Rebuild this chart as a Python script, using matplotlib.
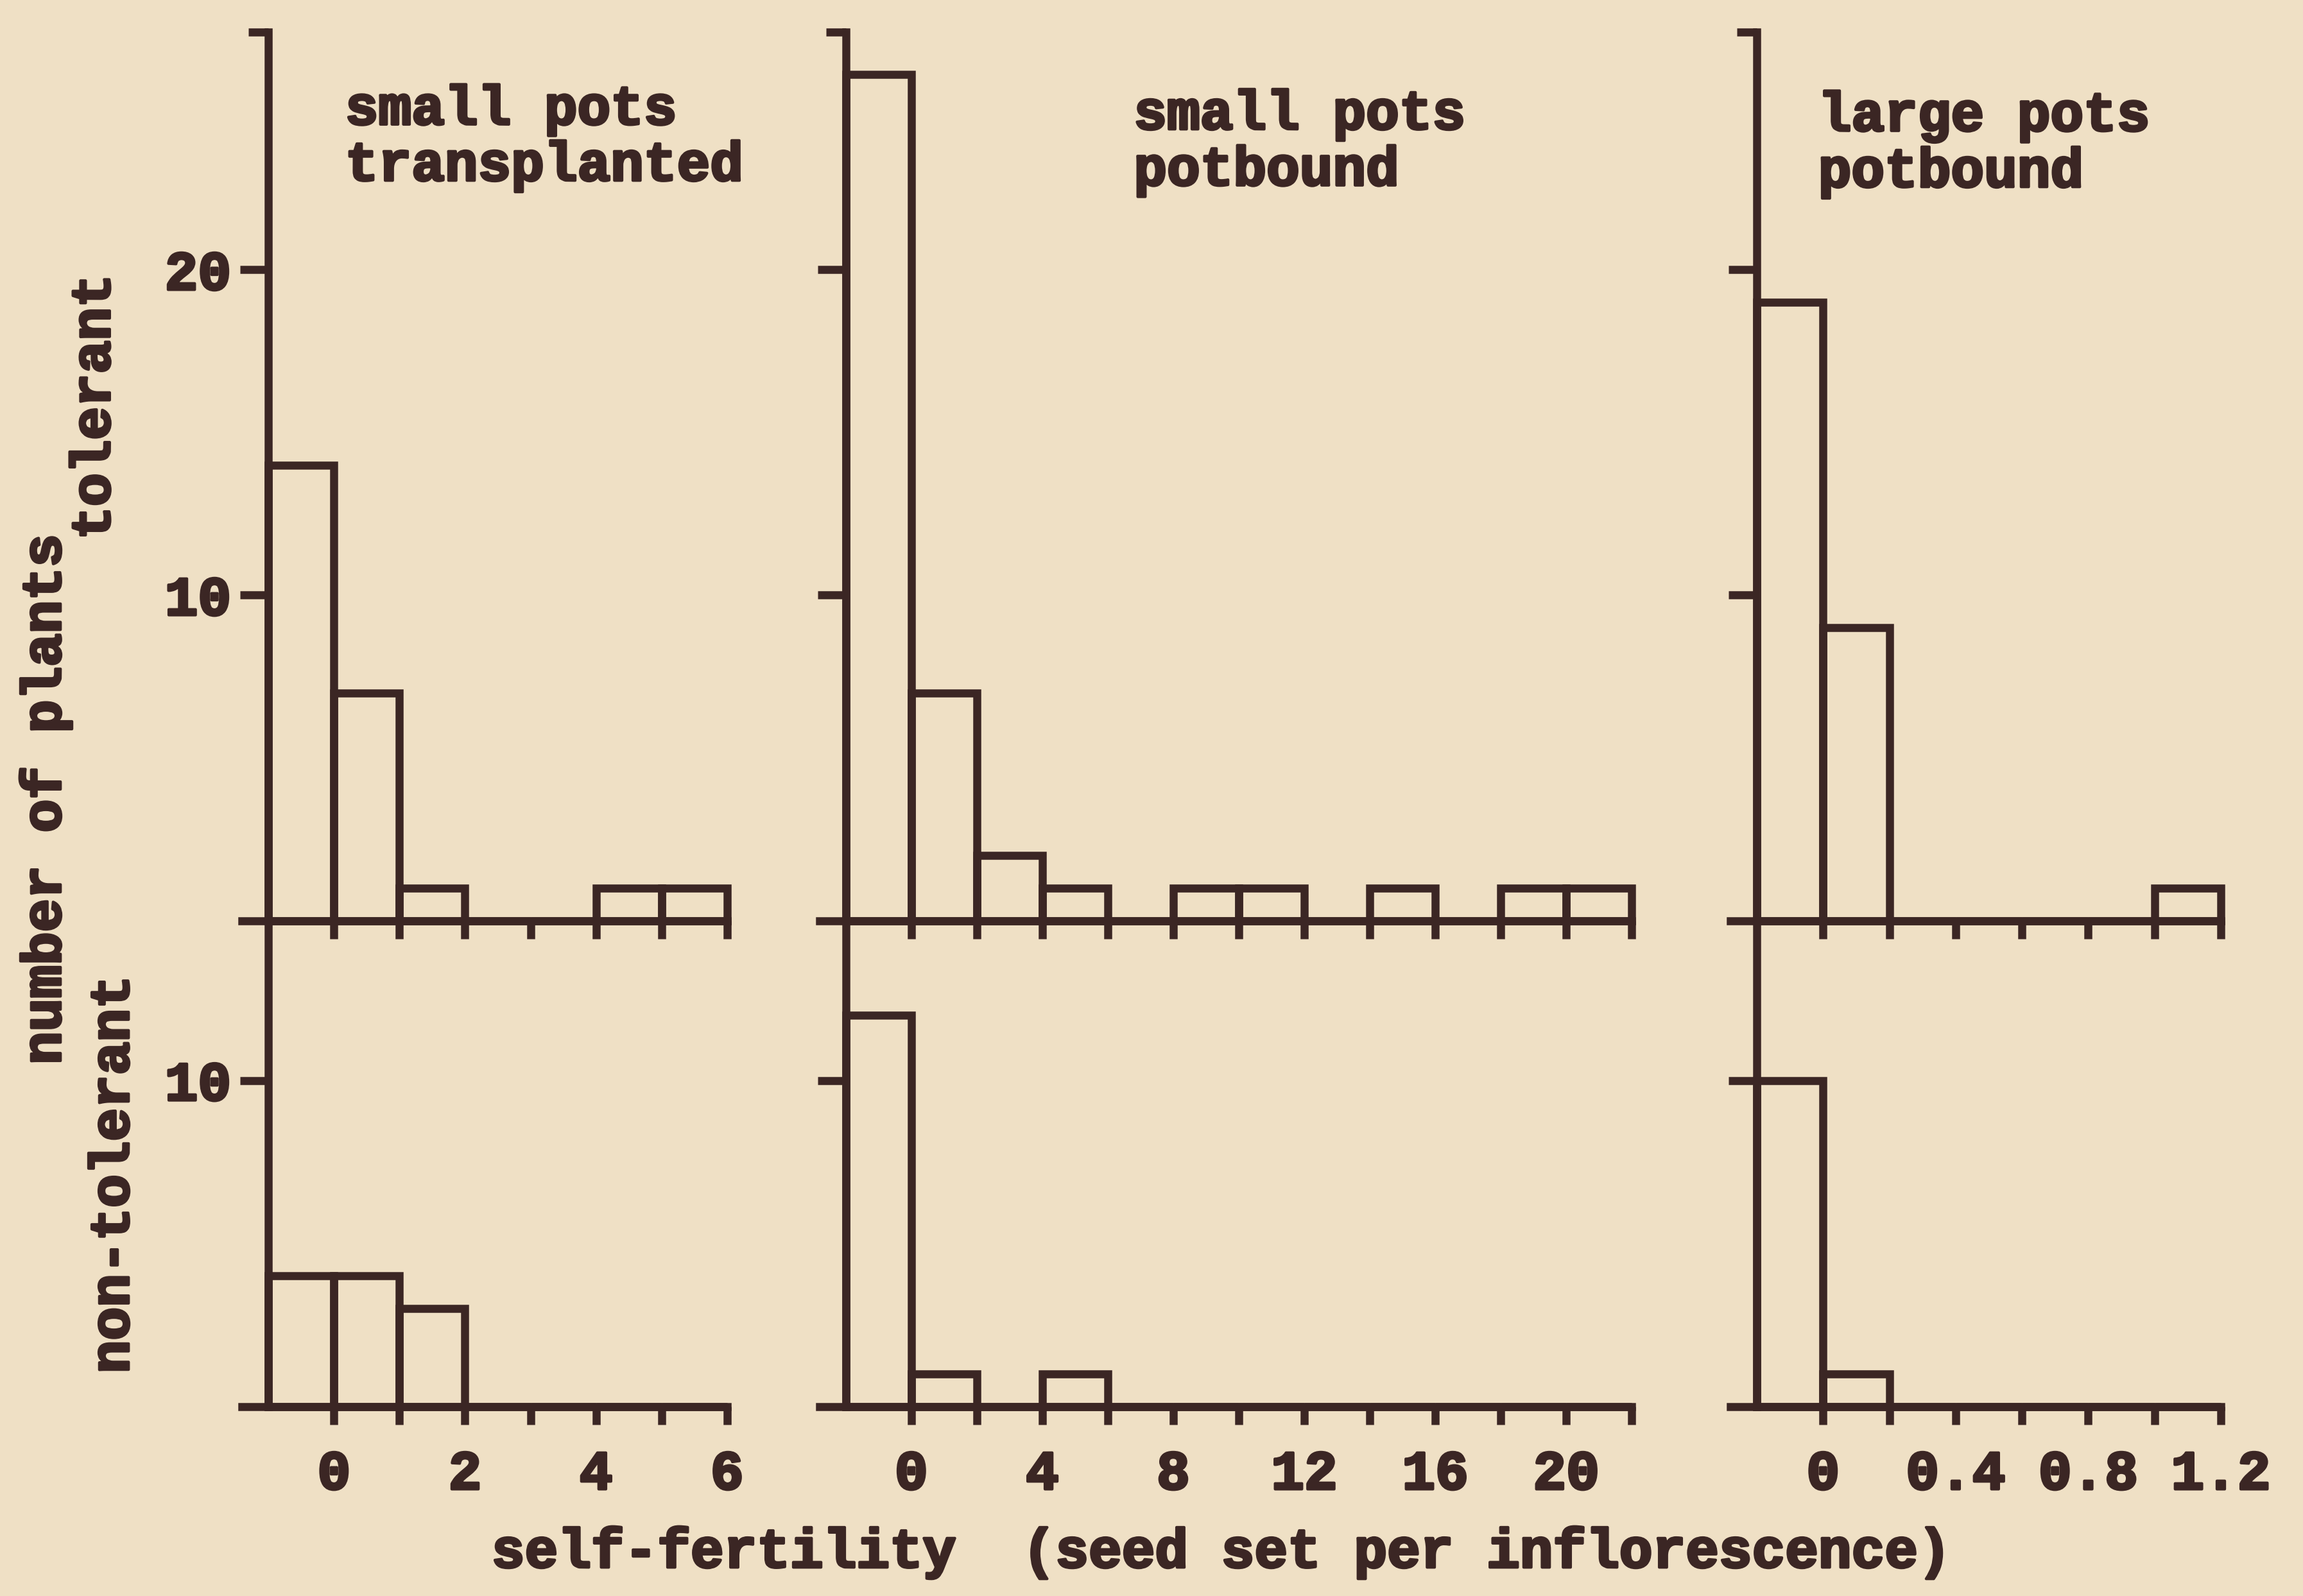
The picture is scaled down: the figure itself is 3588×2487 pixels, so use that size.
import numpy as np
import matplotlib.pyplot as plt
import matplotlib.patheffects as pe

# bin edges and counts (number of plants)
edges_transplanted = [-1, 0, 1, 2, 3, 4, 5, 6]
tolerant_transplanted = [14, 7, 1, 0, 0, 1, 1]
nontolerant_transplanted = [4, 4, 3, 0, 0, 0, 0]

edges_small = [-2, 0, 2, 4, 6, 8, 10, 12, 14, 16, 18, 20, 22]
tolerant_small = [26, 7, 2, 1, 0, 1, 1, 0, 1, 0, 1, 1]
nontolerant_small = [12, 1, 0, 1, 0, 0, 0, 0, 0, 0, 0, 0]

edges_large = [-0.2, 0, 0.2, 0.4, 0.6, 0.8, 1.0, 1.2]
tolerant_large = [19, 9, 0, 0, 0, 0, 1]
nontolerant_large = [10, 1, 0, 0, 0, 0, 0]

titles = ['small pots\ntransplanted', 'small pots\npotbound', 'large pots\npotbound']
xlabelled = [[0, 2, 4, 6], [0, 4, 8, 12, 16, 20], [0, 0.4, 0.8, 1.2]]
xlabel_text = [['0', '2', '4', '6'], ['0', '4', '8', '12', '16', '20'], ['0', '0.4', '0.8', '1.2']]
top_yticks = [10, 20]
bot_yticks = [10]

ink = '#3b2624'
paper = '#efe0c5'
lw = 9
fam = ['Liberation Mono', 'DejaVu Sans Mono']
fs = 62
# typewriter ink is heavier than the bold font, thicken with a stroke
heavy = [pe.withStroke(linewidth=3, foreground=ink)]

plt.rcParams['font.family'] = fam
plt.rcParams['font.weight'] = 'bold'

fig = plt.figure(figsize=(35.88, 24.87), dpi=100, facecolor=paper)

lefts = [0.1052, 0.3559, 0.7513]
rights = [0.3157, 0.7085, 0.9643]
top_box = (0.4232, 0.9798)
bot_box = (0.1187, 0.4232)
top_ylim = 27.3
bot_ylim = 14.9

panels = [
    (edges_transplanted, tolerant_transplanted, nontolerant_transplanted),
    (edges_small, tolerant_small, nontolerant_small),
    (edges_large, tolerant_large, nontolerant_large),
]


def style_axes(ax, edges, ylim, yticks, ylabels, show_xlabels, i):
    w = edges[1] - edges[0]
    ax.set_xlim(edges[0] - 0.4 * w, edges[-1])
    ax.set_ylim(0, ylim)
    ax.set_facecolor('none')
    for s in ['top', 'right']:
        ax.spines[s].set_visible(False)
    ax.spines['left'].set_position(('data', edges[0]))
    for s in ['left', 'bottom']:
        ax.spines[s].set_linewidth(lw)
        ax.spines[s].set_color(ink)
        ax.spines[s].set_capstyle('projecting')
    ax.set_xticks(edges[1:])
    if show_xlabels:
        labs = []
        for e in edges[1:]:
            lab = ''
            for p, t in zip(xlabelled[i], xlabel_text[i]):
                if np.isclose(p, e):
                    lab = t
            labs.append(lab)
        ax.set_xticklabels(labs)
    else:
        ax.set_xticklabels([])
    ax.set_yticks(yticks)
    ax.set_yticklabels(ylabels)
    ax.tick_params(axis='x', direction='out', length=20, width=lw, color=ink,
                   labelsize=fs, labelcolor=ink, pad=28)
    ax.tick_params(axis='y', direction='out', length=32, width=lw, color=ink,
                   labelsize=fs, labelcolor=ink, pad=10)
    for t in ax.get_xticklabels() + ax.get_yticklabels():
        t.set_path_effects(heavy)


for i, (edges, tol, non) in enumerate(panels):
    widths = np.diff(edges)
    l, r = lefts[i], rights[i]

    ax_t = fig.add_axes([l, top_box[0], r - l, top_box[1] - top_box[0]])
    ax_t.bar(edges[:-1], tol, width=widths, align='edge', fill=False,
             edgecolor=ink, linewidth=lw, clip_on=False)
    ylabs = [str(v) for v in top_yticks] if i == 0 else ['' for v in top_yticks]
    style_axes(ax_t, edges, top_ylim, top_yticks, ylabs, False, i)
    ax_t.set_yticks([top_ylim], minor=True)
    ax_t.tick_params(axis='y', which='minor', length=22, width=lw, color=ink)

    ax_b = fig.add_axes([l, bot_box[0], r - l, bot_box[1] - bot_box[0]])
    ax_b.bar(edges[:-1], non, width=widths, align='edge', fill=False,
             edgecolor=ink, linewidth=lw, clip_on=False)
    ylabs = [str(v) for v in bot_yticks] if i == 0 else ['' for v in bot_yticks]
    style_axes(ax_b, edges, bot_ylim, bot_yticks, ylabs, True, i)

# panel titles
title_pos = [(0.1499, 0.947), (0.4923, 0.944), (0.7895, 0.943)]
for (x, y), t in zip(title_pos, titles):
    fig.text(x, y, t, ha='left', va='top', fontsize=fs, color=ink, linespacing=1.12,
             path_effects=heavy)

# axis labels
fig.text(0.020, 0.499, 'number of plants', rotation=90, ha='center', va='center',
         fontsize=fs, color=ink, path_effects=heavy)
fig.text(0.0415, 0.745, 'tolerant', rotation=90, ha='center', va='center',
         fontsize=fs, color=ink, path_effects=heavy)
fig.text(0.0497, 0.264, 'non-tolerant', rotation=90, ha='center', va='center',
         fontsize=fs, color=ink, path_effects=heavy)
fig.text(0.530, 0.027, 'self-fertility  (seed set per inflorescence)', ha='center',
         va='center', fontsize=fs, color=ink, path_effects=heavy)

fig.savefig('out.png', dpi=100, facecolor=paper)
